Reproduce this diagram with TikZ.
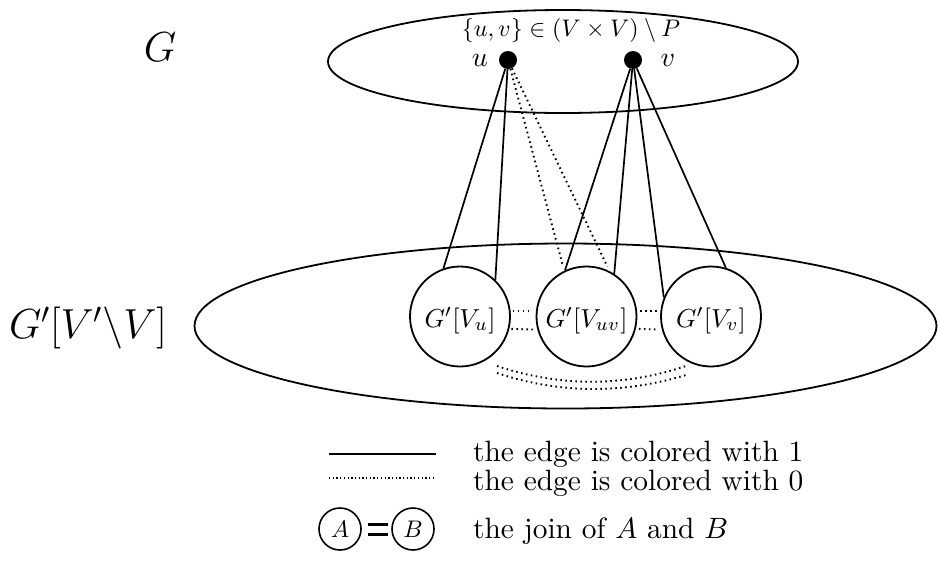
\RequirePackage{fix-cm}
\documentclass[tikz,border=0pt]{standalone}
\usetikzlibrary{calc,shapes.geometric}
\newcommand{\lowered}[1]{\raisebox{-4pt}[\height][\depth]{#1}}
\begin{document}
\begin{tikzpicture}[x=1pt,y=-1pt,
  edge/.style={line width=1.7pt},
  zero/.style={line width=1.9pt, dash pattern=on 1.6pt off 3.4pt},
  zerothin/.style={line width=1.4pt, dash pattern=on 1.3pt off 2.4pt},
  bigell/.style={ellipse, draw, line width=1.8pt, inner sep=0pt},
  sub/.style={circle, draw, line width=1.8pt, minimum size=100pt, inner sep=0pt},
  dot/.style={circle, fill, minimum size=18pt, inner sep=0pt},
  small/.style={circle, draw, line width=1.6pt, minimum size=42pt, inner sep=0pt},
  biglabel/.style={inner sep=0pt, font=\fontsize{42}{50}\selectfont},
  legtext/.style={inner sep=0pt, anchor=base west},
]
\useasboundingbox (0,0) rectangle (939,568);

% ellipses
\node[bigell, minimum width=470pt, minimum height=103pt] (topell) at (563,61.5) {};
\node[bigell, minimum width=742pt, minimum height=165pt] (botell) at (565.5,326) {};

% labels
\node[biglabel] (lG) at (160,47) {$G$};
\node[biglabel] (lGp) at (88,328) {$G'[V'\backslash V]$};
\node[inner sep=0pt] (pair) at (571,30.5) {\scalebox{2.4}{$\{u,v\}\in(V\times V)\setminus P$}};

% vertices
\node[dot] (u) at (508,60) {};
\node[dot] (v) at (633,60) {};
\node[inner sep=0pt] (lu) at (480,60.5) {\scalebox{2.8}{$u$}};
\node[inner sep=0pt] (lv) at (668,60.5) {\scalebox{2.8}{$v$}};

% subgraphs
\node[sub] (cu) at (460,316.5) {\lowered{\scalebox{2.6}{$G'[V_u]$}}};
\node[sub] (cuv) at (586.5,316.5) {\lowered{\scalebox{2.6}{$G'[V_{uv}]$}}};
\node[sub] (cv) at (711,316.5) {\lowered{\scalebox{2.6}{$G'[V_v]$}}};

% edges coloured 1
\draw[edge] (u) -- (cu.109);
\draw[edge] (u) -- (cu.46);
\draw[edge] (v) -- (cuv.115);
\draw[edge] (v) -- (cuv.57);
\draw[edge] (v) -- (cv.158);
\draw[edge] (v) -- (cv.73);

% edges coloured 0
\draw[zero, shorten >=5pt] (u) -- (cuv.116);
\draw[zero, shorten >=5pt] (u) -- (cuv.63);

% joins
\draw[zero, shorten <=2pt, shorten >=4pt] (cu.6) -- (cuv.174);
\draw[zero, shorten <=2pt, shorten >=4pt] (cu.-14.5) -- (cuv.-165.5);
\draw[zero, shorten <=3pt, shorten >=3pt] (cuv.6) -- (cv.174);
\draw[zero, shorten <=3pt, shorten >=3pt] (cuv.-14.5) -- (cv.-165.5);

\coordinate (j1a) at (497,366);
\coordinate (j1b) at (686,366);
\coordinate (j2a) at (497,373);
\coordinate (j2b) at (686,375);
\draw[zero] (j1a) .. controls (560,387) and (623,387) .. (j1b);
\draw[zero] (j2a) .. controls (560,394) and (623,394) .. (j2b);

% legend
\coordinate (s1) at (329,454);
\coordinate (s2) at (436,454);
\draw[edge] (s1) -- (s2);
\coordinate (d1) at (329,478);
\coordinate (d2) at (433,478);
\draw[zerothin] (d1) -- (d2);
\node[legtext] (t1) at (473,461) {\scalebox{2.94}{the edge is colored with 1}};
\node[legtext] (t2) at (473,490) {\scalebox{2.94}{the edge is colored with 0}};

\node[small] (A) at (340,529) {\scalebox{2.4}{$A$}};
\node[small] (B) at (413,529) {\scalebox{2.4}{$B$}};
\draw[line width=3pt, shorten <=6pt, shorten >=3pt] ([yshift=5pt]A.east) -- ([yshift=5pt]B.west);
\draw[line width=3pt, shorten <=6pt, shorten >=3pt] ([yshift=-5pt]A.east) -- ([yshift=-5pt]B.west);
\node[legtext] (t3) at (473,538) {\scalebox{2.94}{the join of $A$ and $B$}};
\end{tikzpicture}
\end{document}
